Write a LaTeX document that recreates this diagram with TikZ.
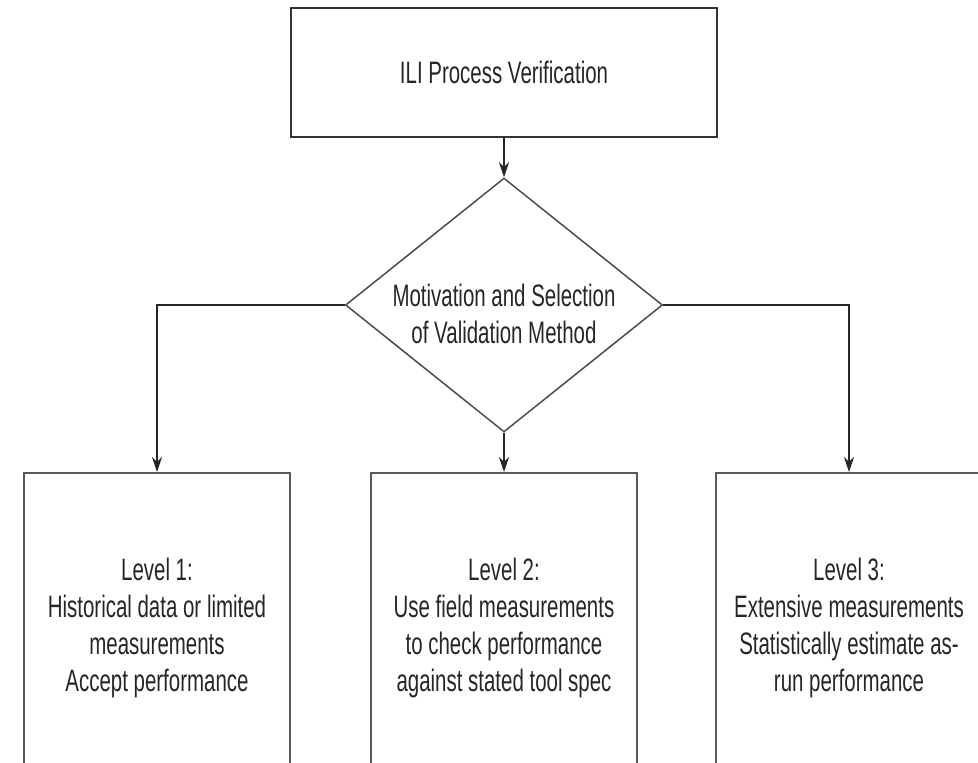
\documentclass[tikz,border=0pt]{standalone}
\usepackage{fontspec}
\setmainfont{Liberation Sans}[FakeStretch=0.66]
\usetikzlibrary{shapes.geometric,arrows.meta}

\begin{document}
\begin{tikzpicture}[x=1pt,y=-1pt,
    every node/.style={font=\fontsize{31}{37}\selectfont, text=black!85, align=center},
    headbox/.style={draw=black!80, line width=1.5pt, rectangle, inner sep=0pt,
                    minimum width=426pt, minimum height=129pt},
    choice/.style={draw=black!70, line width=1.5pt, diamond, inner sep=0pt,
                   shape aspect=1.25, minimum width=317pt, minimum height=254pt},
    levelbox/.style={draw=black!65, line width=1.5pt, rectangle, inner sep=0pt,
                     minimum width=266pt, minimum height=310pt, anchor=north},
    flow/.style={draw=black!85, line width=1.4pt, -{Stealth[length=15pt,width=10pt]}}]

  \useasboundingbox (0,0) rectangle (978,763);
  \clip (0,0) rectangle (978,763);

  % top process box
  \node[headbox] (verify) at (504,72.5) {ILI Process Verification};

  % decision diamond, its two text lines sitting a little below centre
  \node[choice] (select) at (504,305)
    {\raisebox{-19pt}[0pt][0pt]{\begin{tabular}{@{}c@{}}Motivation and Selection\\of Validation Method\end{tabular}}};

  % the three validation levels (they run on below the lower edge)
  \node[levelbox] (lvl1) at (157,472)
    {Level 1:\\Historical data or limited\\measurements\\Accept performance};
  \node[levelbox] (lvl2) at (504,472)
    {Level 2:\\Use field measurements\\to check performance\\against stated tool spec};
  \node[levelbox] (lvl3) at (849,472)
    {Level 3:\\Extensive measurements\\Statistically estimate as-\\run performance};

  % connectors
  \draw[flow] (verify.south) -- (select.north);
  \draw[flow] (select.west) -| (lvl1.north);
  \draw[flow] (select.south) -- (lvl2.north);
  \draw[flow] (select.east) -| (lvl3.north);
\end{tikzpicture}
\end{document}
